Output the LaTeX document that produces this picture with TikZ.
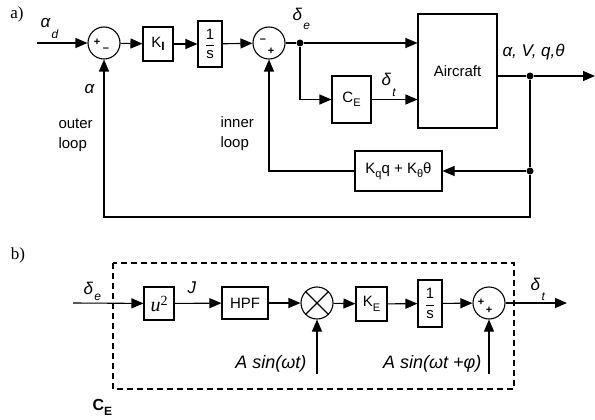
\documentclass[tikz,border=0pt]{standalone}
\usepackage{fontspec}
\setmainfont{Liberation Sans}
\newfontfamily\serifit{Liberation Serif}
\usetikzlibrary{arrows.meta}
% box subscript
\newcommand{\bsub}[2]{#1\raisebox{-4.5pt}{\fontsize{11}{12}\selectfont #2}}
% label subscript (lowered more)
\newcommand{\lsub}[3]{#1\kern1.5pt\raisebox{-#3}{\fontsize{12}{13}\selectfont #2}}
\newcommand{\myfrac}{$\displaystyle\frac{\mbox{1}}{\mbox{s}}$}
\begin{document}
\begin{tikzpicture}[x=1pt,y=-1pt,line width=1.1pt,
  every node/.style={font=\fontsize{15}{20}\selectfont,inner sep=0pt},
  sumc/.style={draw,circle,minimum size=32pt},
  arr/.style={-{Triangle[length=12pt,width=10pt]}},
  dotc/.style={circle,fill,minimum size=7pt},
  lbl/.style={font=\fontsize{17}{19}\selectfont\itshape,anchor=base west},
  big/.style={font=\fontsize{18}{20}\selectfont\itshape,anchor=base east},
  sgn/.style={font=\fontsize{11}{12}\selectfont\bfseries},
  tag/.style={font=\fontsize{17}{19}\selectfont\serifit}]
\useasboundingbox (0,0) rectangle (595,420);
% ---------- a) ----------
\node[tag] (la) at (17,14) {a)};
\coordinate (in1) at (37,43);
\node[sumc] (s1) at (104,43) {};
\node[sgn] (s1p) at (97,42) {+};
\node[sgn] (s1m) at (106,50) {–};
\node[draw,minimum width=30pt,minimum height=34pt] (ki) at (158,44) {K\raisebox{-3pt}{\fontsize{12}{13}\selectfont\bfseries I}};
\node[draw,minimum width=24pt,minimum height=46pt] (inv1) at (210,44) {\myfrac};
\node[sumc] (s2) at (269,43) {};
\node[sgn] (s2m) at (263,41) {–};
\node[sgn] (s2p) at (271,51) {+};
\node[dotc] (de) at (300,43) {};
\node[draw,minimum width=79pt,minimum height=114pt] (ac) at (457.5,71) {Aircraft};
\node[draw,minimum width=39pt,minimum height=47pt] (ce) at (351.5,99.5) {\bsub{C}{E}};
\coordinate (acin1) at (ac.west |- de);
\coordinate (acin2) at (ac.west |- ce);
\coordinate (cebr) at (de |- ce);
\coordinate (acout) at (497,76);
\node[dotc] (od) at (530,76) {};
\coordinate (out1) at (595,76);
\node[draw,minimum width=87pt,minimum height=40pt] (kq) at (398.5,171) {\bsub{K}{q}q + \bsub{K}{θ}θ};
\node[dotc] (fd) at (530,171) {};
\coordinate (il) at (s2 |- kq);
\coordinate (bl) at (530,217);
\coordinate (br) at (s1 |- bl);
\draw[arr] (in1) -- (s1);
\draw[arr] (s1) -- (ki);
\draw[arr] (ki) -- (inv1);
\draw[arr] (inv1) -- (s2);
\draw (s2) -- (de);
\draw[arr] (de) -- (acin1);
\draw[arr] (de) -- (cebr) -- (ce);
\draw[arr] (ce) -- (acin2);
\draw (acout) -- (od);
\draw[arr] (od) -- (out1);
\draw (od) -- (fd);
\draw[arr] (fd) -- (kq);
\draw[arr] (kq) -- (il) -- (s2);
\draw[arr] (fd) -- (bl) -- (br) -- (s1);
% labels a
\node[lbl] (lad) at (40,28) {\lsub{α}{d}{11pt}};
\node[lbl] (lal) at (84,94) {α};
\node[anchor=west,align=left] (lout) at (58,135) {outer\\loop};
\node[anchor=west,align=left] (linn) at (220,134) {inner\\loop};
\node[lbl] (lde) at (292,21) {\lsub{δ}{e}{9pt}};
\node[lbl] (ldt) at (381,85) {\lsub{δ}{t}{11pt}};
\node[lbl] (lout2) at (502,57) {α, V, q,θ};
% ---------- b) ----------
\node[tag] (lb) at (18,255) {b)};
\draw[line width=1.1pt,dash pattern=on 6pt off 4pt] (113,263) rectangle (514,389);
\coordinate (in2) at (73,303);
\node[draw,minimum width=30pt,minimum height=33pt] (u2) at (159,303.5) {{\serifit\fontsize{20}{21}\selectfont\itshape u}\raisebox{6pt}{\serifit\fontsize{14}{15}\selectfont 2}};
\node[draw,minimum width=46pt,minimum height=32pt] (hpf) at (245,303) {HPF};
\node[draw,circle,minimum size=32pt] (mul) at (317,303) {};
\node[draw,minimum width=31pt,minimum height=34pt] (ke) at (371.5,304) {\bsub{K}{E}};
\node[draw,minimum width=24pt,minimum height=47pt] (inv2) at (430,303.5) {\myfrac};
\node[sumc] (s3) at (489,303) {};
\node[sgn] (s3p1) at (481,302) {+};
\node[sgn] (s3p2) at (489,310) {+};
\coordinate (out2) at (567,303);
\coordinate (m1) at (317,374);
\coordinate (m2) at (489,374);
\draw (mul.north west) -- (mul.south east);
\draw (mul.north east) -- (mul.south west);
\draw[arr] (in2) -- (u2);
\draw[arr] (u2) -- (hpf);
\draw[arr] (hpf) -- (mul);
\draw[arr] (mul) -- (ke);
\draw[arr] (ke) -- (inv2);
\draw[arr] (inv2) -- (s3);
\draw[arr] (s3) -- (out2);
\draw[arr] (m1) -- (mul);
\draw[arr] (m2) -- (s3);
\node[lbl] (lbde) at (83,294) {\lsub{δ}{e}{6pt}};
\node[lbl] (lj) at (187,293) {J};
\node[lbl] (lbdt) at (530,290) {\lsub{δ}{t}{10pt}};
\node[big] (la1) at (307,368) {A sin(ωt)};
\node[big] (la2) at (482,368) {A sin(ωt +φ)};
\node[font=\fontsize{16}{18}\selectfont\bfseries,anchor=base west] (lce) at (92,410) {C\raisebox{-5pt}{\fontsize{12}{13}\selectfont\bfseries E}};
\end{tikzpicture}
\end{document}
